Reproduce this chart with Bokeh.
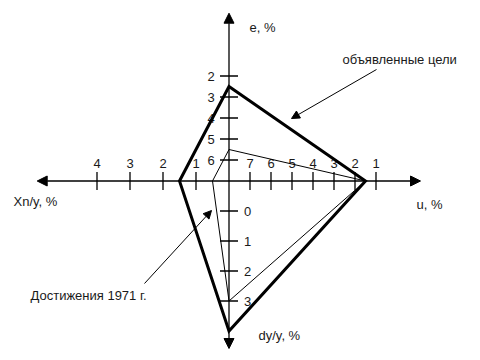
from bokeh.plotting import figure
from bokeh.models import Range1d, Arrow, NormalHead, Label, ColumnDataSource
from bokeh.core.properties import value
from bokeh.embed import file_html
from bokeh.resources import INLINE

# Tick values on the four axes
e_ticks = [2, 3, 4, 5, 6]            # up: e, %
u_ticks = [7, 6, 5, 4, 3, 2, 1]      # right: u, %
dy_ticks = [0, 1, 2, 3]              # down: dy/y, %
xn_ticks = [4, 3, 2, 1]              # left: Xn/y, %

# Quadrilaterals: (e, u, dy/y, Xn/y)
goals = {"e": 2.5, "u": 1.5, "dy": 4.0, "xn": 1.5}
achieved_1971 = {"e": 5.5, "u": 1.5, "dy": 3.0, "xn": 0.5}

FONT = "Liberation Sans"
FS = "13px"
INK = "#1a1a1a"

# Each axis has its own scale (distance from the centre in pixels)
def e_pos(v):
    return 0.0, (7 - v) * 21.0

def u_pos(v):
    return (8 - v) * 21.0, 0.0

def dy_pos(v):
    return 0.0, -(v + 1) * 30.0

def xn_pos(v):
    return -33.0 * v, 0.0

p = figure(width=480, height=360, output_backend="svg", toolbar_location=None,
           x_range=Range1d(-228.5, 251.5), y_range=Range1d(-179.5, 180.5),
           x_axis_location=None, y_axis_location=None,
           min_border=0, min_border_left=0, min_border_right=0,
           min_border_top=0, min_border_bottom=0)
p.outline_line_color = None
p.grid.grid_line_color = None
p.background_fill_color = "white"
p.border_fill_color = "white"

# Main axes with arrowheads at both ends
head = lambda: NormalHead(size=10, fill_color="black", line_color="black", line_width=1)
p.add_layout(Arrow(start=head(), end=head(), x_start=-191.8, y_start=0, x_end=191.5, y_end=0,
                   line_width=1.3, line_color="black"))
p.add_layout(Arrow(start=head(), end=head(), x_start=0, y_start=-167.5, x_end=0, y_end=167.8,
                   line_width=1.3, line_color="black"))

# Tick marks
T = 9
vx0, vy0, vx1, vy1 = [], [], [], []
for v in e_ticks:
    x, y = e_pos(v); vx0.append(x - T); vx1.append(x + T); vy0.append(y); vy1.append(y)
for v in dy_ticks:
    x, y = dy_pos(v); vx0.append(x - T); vx1.append(x + T); vy0.append(y); vy1.append(y)
for v in u_ticks:
    x, y = u_pos(v); vx0.append(x); vx1.append(x); vy0.append(y - T); vy1.append(y + T)
for v in xn_ticks:
    x, y = xn_pos(v); vx0.append(x); vx1.append(x); vy0.append(y - T); vy1.append(y + T)
p.segment(vx0, vy0, vx1, vy1, line_color="black", line_width=1.3)

# Tick labels
e_src = ColumnDataSource(dict(x=[e_pos(v)[0] - 18 for v in e_ticks],
                              y=[e_pos(v)[1] for v in e_ticks],
                              t=[str(v) for v in e_ticks]))
p.text("x", "y", "t", source=e_src, text_font=value(FONT), text_font_size=FS,
       text_color=INK, text_align="center", text_baseline="middle")
dy_src = ColumnDataSource(dict(x=[dy_pos(v)[0] + 15 for v in dy_ticks],
                               y=[dy_pos(v)[1] for v in dy_ticks],
                               t=[str(v) for v in dy_ticks]))
p.text("x", "y", "t", source=dy_src, text_font=value(FONT), text_font_size=FS,
       text_color=INK, text_align="left", text_baseline="middle")
h_src = ColumnDataSource(dict(x=[u_pos(v)[0] for v in u_ticks] + [xn_pos(v)[0] for v in xn_ticks],
                              y=[18] * (len(u_ticks) + len(xn_ticks)),
                              t=[str(v) for v in u_ticks] + [str(v) for v in xn_ticks]))
p.text("x", "y", "t", source=h_src, text_font=value(FONT), text_font_size=FS,
       text_color=INK, text_align="center", text_baseline="middle")

# Quadrilaterals
def quad(d):
    pts = [e_pos(d["e"]), u_pos(d["u"]), dy_pos(d["dy"]), xn_pos(d["xn"])]
    return [q[0] for q in pts], [q[1] for q in pts]

gx, gy = quad(goals)
p.patch(gx, gy, fill_color=None, line_color="black", line_width=3, line_join="miter")
ax, ay = quad(achieved_1971)
p.patch(ax, ay, fill_color=None, line_color="black", line_width=1, line_join="miter")

# Axis titles and callouts (positions in pixel offsets from the centre)
def px(x, y):
    return x - 228.5, 180.5 - y

for text, (x, y) in [("e, %", (249, 27)), ("u, %", (416, 204)), ("dy/y, %", (258, 335)),
                     ("Xn/y, %", (13, 201)), ("объявленные цели", (342, 59)),
                     ("Достижения 1971 г.", (30, 295))]:
    lx, ly = px(x, y)
    p.add_layout(Label(x=lx, y=ly, text=text, text_font=FONT, text_font_size=FS,
                       text_color=INK, text_align="left", text_baseline="middle"))

small = lambda: NormalHead(size=8, fill_color="black", line_color="black", line_width=1)
for (x0, y0), (x1, y1) in [((376, 69), (291, 118)), ((144, 283), (211, 210))]:
    sx, sy = px(x0, y0)
    ex, ey = px(x1, y1)
    p.add_layout(Arrow(end=small(), x_start=sx, y_start=sy, x_end=ex, y_end=ey,
                       line_width=1, line_color="black"))

open("out.html", "w").write(file_html(p, INLINE))
